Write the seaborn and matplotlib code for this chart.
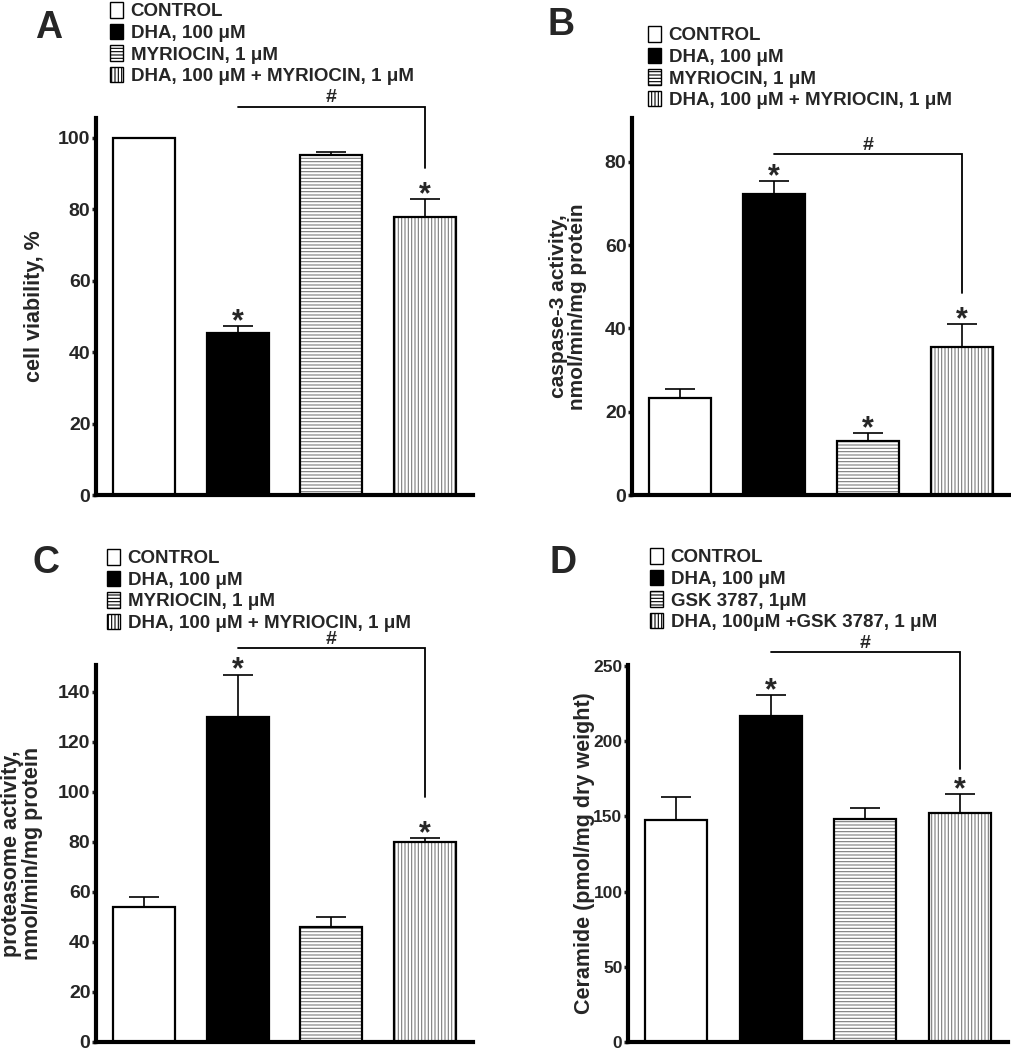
import numpy as np
import pandas as pd
import matplotlib
matplotlib.use("Agg")
import matplotlib.pyplot as plt
import seaborn as sns
from matplotlib.patches import Patch

# DATA
groups_abc = ["CONTROL", "DHA, 100 μM", "MYRIOCIN, 1 μM", "DHA, 100 μM + MYRIOCIN, 1 μM"]
groups_d = ["CONTROL", "DHA, 100 μM", "GSK 3787, 1μM", "DHA, 100μM +GSK 3787, 1 μM"]

viability = [100, 45.4, 95.2, 77.9]
viability_sem = [0, 1.9, 0.9, 5.0]
viability_stars = [1, 3]

caspase = [23.3, 72.2, 13.0, 35.5]
caspase_sem = [2.1, 3.2, 1.9, 5.5]
caspase_stars = [1, 2, 3]

proteasome = [54, 130, 46, 80]
proteasome_sem = [4, 17, 4, 1.6]
proteasome_stars = [1, 3]

ceramide = [147.2, 216.8, 147.9, 151.9]
ceramide_sem = [15.3, 14.0, 7.3, 12.6]
ceramide_stars = [1, 3]

# style
sns.set_style("white")
plt.rcParams["font.family"] = ["Liberation Sans", "DejaVu Sans"]
plt.rcParams["font.weight"] = "bold"
plt.rcParams["hatch.linewidth"] = 0.8

fills = ["white", "black", "white", "white"]
hatches = [None, None, "-----", "|||||"]
HATCH_GRAY = "#7a7a7a"

panels = [
    dict(letter="A", letter_xy=(35, 38), rect=(96, 118, 377, 377),
         groups=groups_abc, vals=viability, sem=viability_sem, stars=viability_stars,
         ylim=105.5, yticks=np.arange(0, 101, 20), ylabel="cell viability, %",
         label_x=-0.135, ylabel_size=15.5, tick_size=14,
         legend_xy=(110, 2), bracket=(108.7, 91.6)),
    dict(letter="B", letter_xy=(548, 35), rect=(632, 118, 378, 377),
         groups=groups_abc, vals=caspase, sem=caspase_sem, stars=caspase_stars,
         ylim=90.5, yticks=np.arange(0, 81, 20),
         ylabel="caspase-3 activity,\nnmol/min/mg protein",
         label_x=-0.12, ylabel_size=15, tick_size=14,
         legend_xy=(648, 26), bracket=(81.8, 48.5)),
    dict(letter="C", letter_xy=(33, 573), rect=(96, 665, 377, 377),
         groups=groups_abc, vals=proteasome, sem=proteasome_sem, stars=proteasome_stars,
         ylim=150.8, yticks=np.arange(0, 141, 20),
         ylabel="proteasome activity,\nnmol/min/mg protein",
         label_x=-0.14, ylabel_size=15.5, tick_size=14,
         legend_xy=(107, 549), bracket=(157.6, 98)),
    dict(letter="D", letter_xy=(550, 573), rect=(628, 665, 380, 377),
         groups=groups_d, vals=ceramide, sem=ceramide_sem, stars=ceramide_stars,
         ylim=250.5, yticks=np.arange(0, 251, 50),
         ylabel="Ceramide (pmol/mg dry weight)",
         label_x=-0.088, ylabel_size=15.5, tick_size=12.5,
         legend_xy=(650, 548), bracket=(259, 181.7)),
]

W, H = 1012, 1050
fig = plt.figure(figsize=(W / 100, H / 100), dpi=100)

for p in panels:
    x0, y0, w, h = p["rect"]
    ax = fig.add_axes([x0 / W, 1 - (y0 + h) / H, w / W, h / H])

    df = pd.DataFrame({"group": p["groups"], "value": p["vals"]})

    # filled / hatched bars with gray hatch lines
    sns.barplot(data=df, x="group", y="value", hue="group", palette=fills,
                width=0.66, errorbar=None, legend=False, ax=ax,
                edgecolor=HATCH_GRAY, linewidth=0)
    for patch, hatch in zip(ax.patches, hatches):
        if hatch:
            patch.set_hatch(hatch)
    # black outlines on top
    sns.barplot(data=df, x="group", y="value", fill=False, color="black",
                width=0.66, errorbar=None, ax=ax, linewidth=1.6)

    # one-sided error bars
    for i, (v, s) in enumerate(zip(p["vals"], p["sem"])):
        if s > 0:
            ax.errorbar(i, v, yerr=[[0], [s]], fmt="none", ecolor="black",
                        elinewidth=1.2, capsize=11, capthick=1.2, zorder=1)

    # significance stars
    for i in p["stars"]:
        ax.annotate("*", xy=(i, p["vals"][i] + p["sem"][i]), xytext=(0, -3),
                    textcoords="offset points", ha="center", va="baseline",
                    fontsize=22, fontweight="bold", annotation_clip=False)

    # bracket DHA vs combination
    top, drop = p["bracket"]
    ax.plot([1, 3, 3], [top, top, drop], color="black", lw=1.3,
            clip_on=False, solid_joinstyle="miter")
    ax.annotate("#", xy=(2, top), xytext=(0, 3), textcoords="offset points",
                ha="center", va="baseline", fontsize=14, fontweight="bold",
                annotation_clip=False)

    ax.set_xlim(-0.51, 3.51)
    ax.set_ylim(0, p["ylim"])
    ax.set_yticks(p["yticks"])
    ax.set_xticks([])
    ax.set_xlabel("")
    ax.set_ylabel(p["ylabel"], fontsize=p["ylabel_size"], fontweight="bold",
                  linespacing=1.0)
    ax.yaxis.set_label_coords(p["label_x"], 0.5)
    ax.tick_params(axis="y", direction="out", length=3, width=2.5,
                   labelsize=p["tick_size"], pad=1, left=True)
    for lab in ax.get_yticklabels():
        lab.set_fontweight("bold")
    sns.despine(ax=ax)
    ax.spines["left"].set_linewidth(3)
    ax.spines["bottom"].set_linewidth(3)
    ax.spines["left"].set_color("black")
    ax.spines["bottom"].set_color("black")

    # legend
    handles = []
    for fc, hatch in zip(fills, hatches):
        handles.append(Patch(facecolor=fc, edgecolor="black", hatch=hatch, linewidth=1.0))
    lx, ly = p["legend_xy"]
    fig.legend(handles, p["groups"], loc="upper left",
               bbox_to_anchor=(lx / W, 1 - ly / H), bbox_transform=fig.transFigure,
               frameon=False, borderpad=0, borderaxespad=0,
               handlelength=0.7, handleheight=0.9, handletextpad=0.4,
               labelspacing=0.18, prop={"size": 13.5, "weight": "bold"})

    lx, ly = p["letter_xy"]
    fig.text(lx / W, 1 - ly / H, p["letter"], fontsize=27, fontweight="bold",
             ha="left", va="baseline")

fig.savefig("out.png", dpi=100, facecolor="white")
